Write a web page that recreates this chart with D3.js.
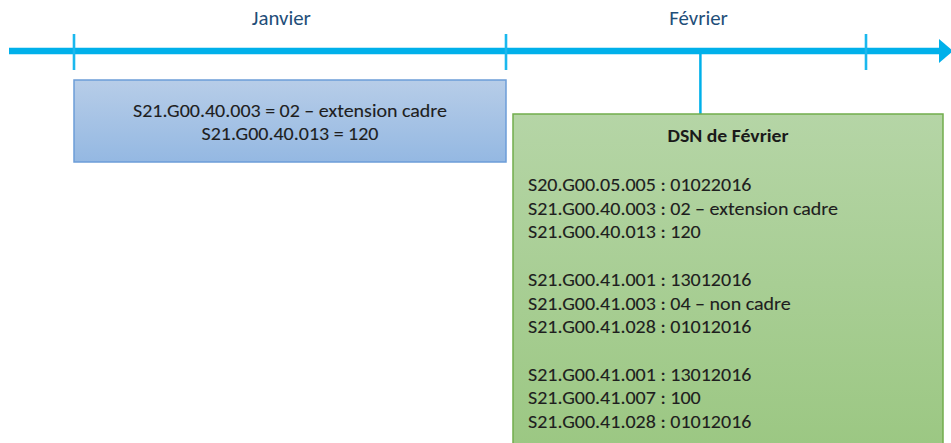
<!DOCTYPE html>
<html><head><meta charset="utf-8">
<script src="https://cdn.jsdelivr.net/npm/d3@7/dist/d3.min.js"></script>
<style>html,body{margin:0;padding:0;background:#fff;}svg{display:block;}</style>
</head><body>
<script>
// ---- data ----
const monthBoundaries = [0, 1, 2];            // start Jan, start Feb, start Mar
const months = ["Janvier", "Février"];
const monthLabelPos = [0.48, 1.535];
const dsnEventPos = 1.54;                     // DSN de Février sent mid-month
const janBoxLines = ["S21.G00.40.003 = 02 – extension cadre", "S21.G00.40.013 = 120"];
const dsnTitle = "DSN de Février";
const dsnLines = [
  "S20.G00.05.005 : 01022016",
  "S21.G00.40.003 : 02 – extension cadre",
  "S21.G00.40.013 : 120",
  "",
  "S21.G00.41.001 : 13012016",
  "S21.G00.41.003 : 04 – non cadre",
  "S21.G00.41.028 : 01012016",
  "",
  "S21.G00.41.001 : 13012016",
  "S21.G00.41.007 : 100",
  "S21.G00.41.028 : 01012016"
];

const W = 951, H = 443;
const FONT = "Carlito, Calibri, Lato, 'Open Sans', sans-serif";
const svg = d3.select("body").append("svg").attr("width", W).attr("height", H);

const x = d3.scaleLinear().domain(monthBoundaries).range([74, 506, 866]);
const axisY = 51;

const defs = svg.append("defs");
const gb = defs.append("linearGradient").attr("id", "gBlue").attr("x1", 0).attr("y1", 0).attr("x2", 0).attr("y2", 1);
gb.append("stop").attr("offset", 0).attr("stop-color", "#b7cde8");
gb.append("stop").attr("offset", 1).attr("stop-color", "#94b8e2");
const gg = defs.append("linearGradient").attr("id", "gGreen").attr("x1", 0).attr("y1", 0).attr("x2", 0).attr("y2", 1);
gg.append("stop").attr("offset", 0).attr("stop-color", "#b5d5a6");
gg.append("stop").attr("offset", 1).attr("stop-color", "#9bc782");

const blue = "#00b0ea";

// axis line + arrow
svg.append("line").attr("x1", 9).attr("x2", 940).attr("y1", axisY).attr("y2", axisY)
  .attr("stroke", blue).attr("stroke-width", 6.5);
svg.append("path").attr("d", `M939,${axisY-12} L953,${axisY} L939,${axisY+12} Z`).attr("fill", blue);

// month ticks
svg.selectAll("line.tick").data(monthBoundaries).join("line").attr("class", "tick")
  .attr("x1", d => x(d)).attr("x2", d => x(d)).attr("y1", 34).attr("y2", 70)
  .attr("stroke", "#1ab8ee").attr("stroke-width", 2.6);

// squeeze a group of lines horizontally so the reference line reaches the target width
function squeeze(sel, refIndex, target) {
  const nodes = sel.nodes();
  const k = target / nodes[refIndex].getComputedTextLength();
  nodes.forEach(n => {
    const w = n.getComputedTextLength();
    if (w > 0) { n.setAttribute("textLength", w * k); n.setAttribute("lengthAdjust", "spacingAndGlyphs"); }
  });
}

// month labels
const ml = svg.selectAll("text.month").data(months).join("text").attr("class", "month")
  .attr("x", (d, i) => x(monthLabelPos[i])).attr("y", 25)
  .attr("text-anchor", "middle").attr("fill", "#1f4e79")
  .style("font-family", FONT).style("font-size", "20px").text(d => d);
squeeze(ml, 0, 59);

// January box
const bx0 = x(0), bx1 = x(1);
svg.append("rect").attr("x", bx0).attr("y", 80).attr("width", bx1 - bx0).attr("height", 82)
  .attr("fill", "url(#gBlue)").attr("stroke", "#6c9dd8").attr("stroke-width", 1.5);
const jt = svg.selectAll("text.jan").data(janBoxLines).join("text").attr("class", "jan")
  .attr("x", (bx0 + bx1) / 2).attr("y", (d, i) => 116.5 + i * 23)
  .attr("text-anchor", "middle").attr("fill", "#1e1e1e")
  .attr("stroke", "#1e1e1e").attr("stroke-width", 0.1)
  .style("font-family", FONT).style("font-size", "17.5px").text(d => d);
squeeze(jt, 0, 314);

// DSN connector
const ex = x(dsnEventPos);
svg.append("line").attr("x1", ex).attr("x2", ex).attr("y1", axisY + 3).attr("y2", 114)
  .attr("stroke", blue).attr("stroke-width", 2.5);

// DSN box
const gx0 = x(1) + 7, gx1 = 943;
svg.append("rect").attr("x", gx0).attr("y", 114).attr("width", gx1 - gx0).attr("height", 340)
  .attr("fill", "url(#gGreen)").attr("stroke", "#72ad4c").attr("stroke-width", 1.5);
const tt = svg.append("text").attr("x", (gx0 + gx1) / 2).attr("y", 142)
  .attr("text-anchor", "middle").attr("fill", "#1a1a1a").attr("font-weight", "bold")
  .style("font-family", FONT).style("font-size", "18px").text(dsnTitle);
squeeze(tt, 0, 121);
const dt = svg.selectAll("text.dsn").data(dsnLines).join("text").attr("class", "dsn")
  .attr("x", gx0 + 15).attr("y", (d, i) => 191 + i * 23.7)
  .attr("fill", "#1e1e1e").attr("stroke", "#1e1e1e").attr("stroke-width", 0.1)
  .style("font-family", FONT).style("font-size", "17.5px").text(d => d);
squeeze(dt, 1, 310);
</script>
</body></html>
